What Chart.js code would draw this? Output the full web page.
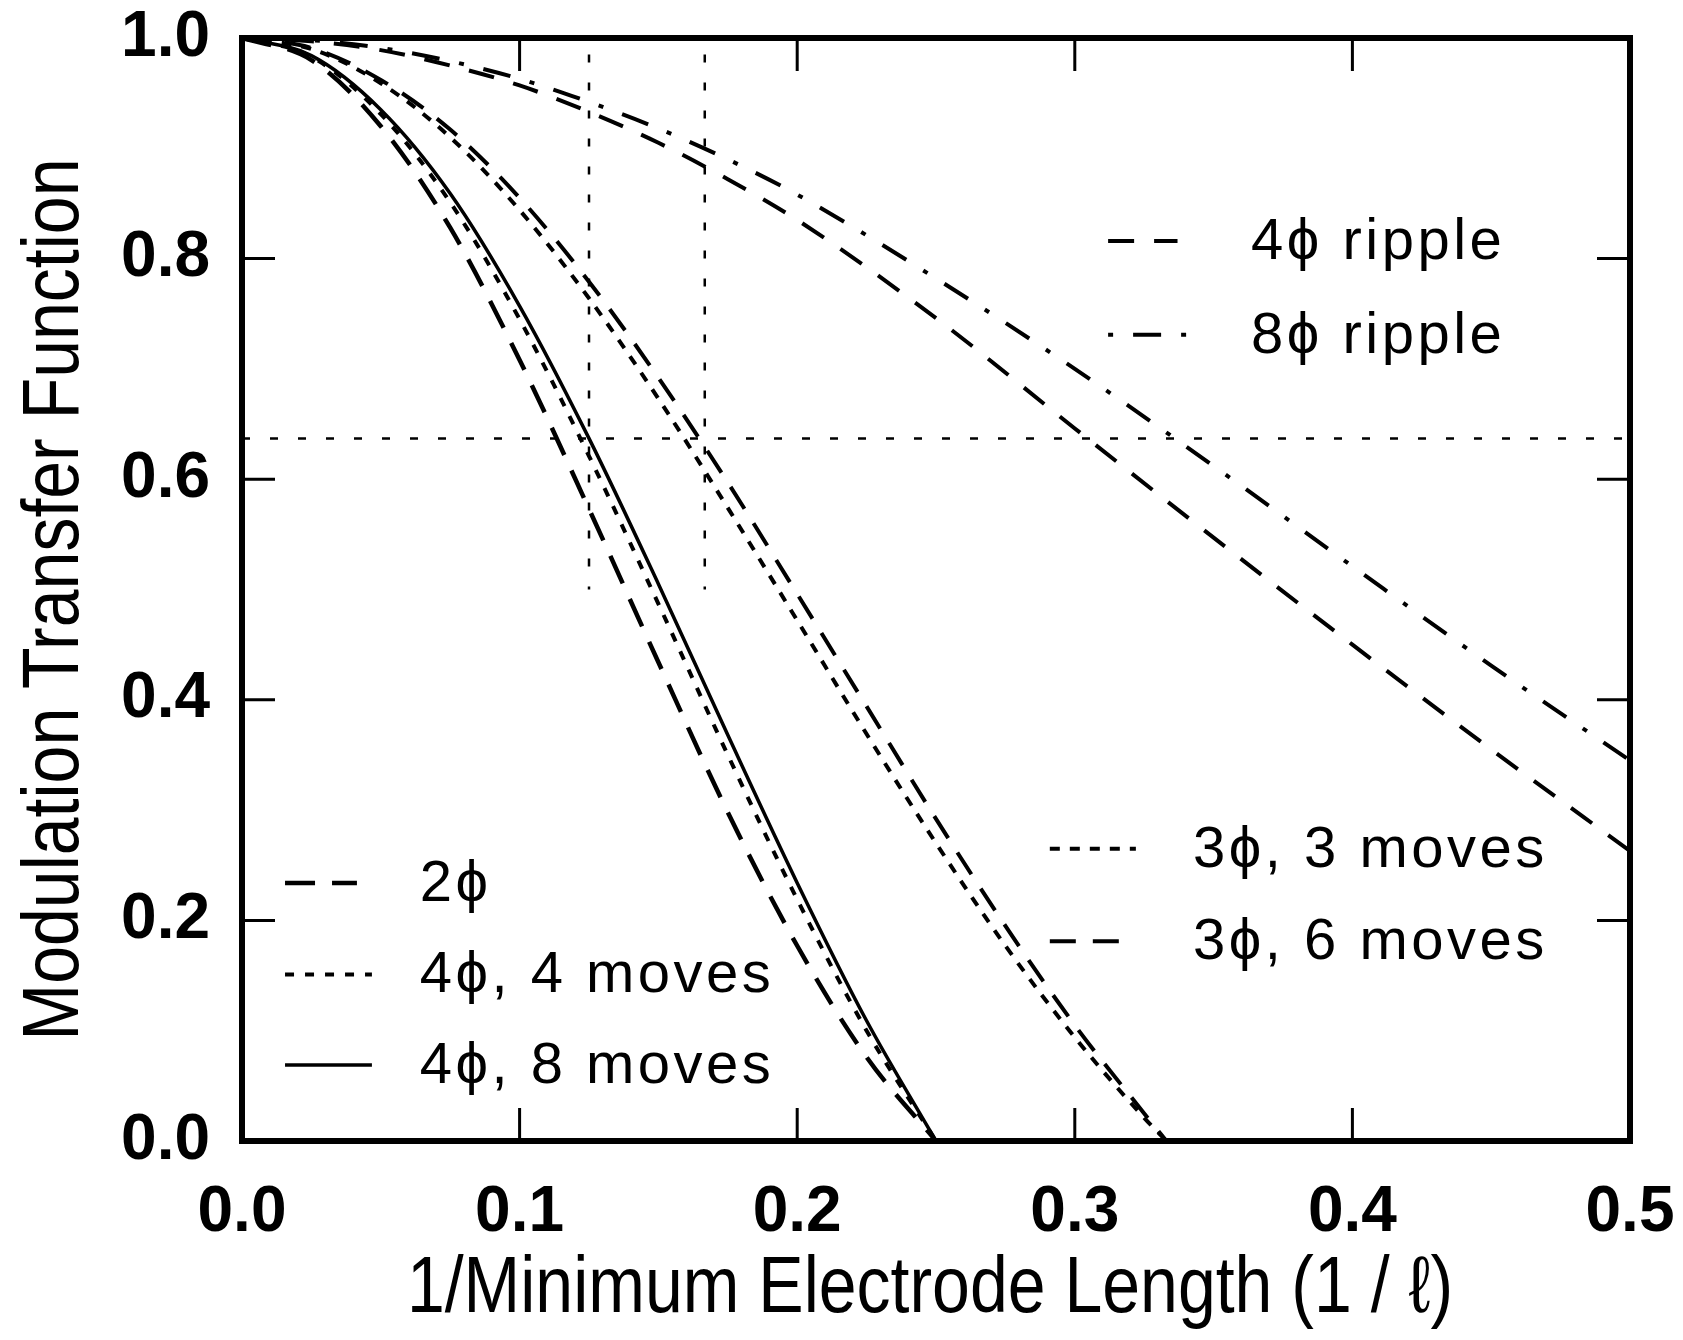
<!DOCTYPE html>
<html>
<head>
<meta charset="utf-8">
<script src="https://cdn.jsdelivr.net/npm/chart.js@4.4.1/dist/chart.umd.min.js"></script>
<style>
  html, body { margin: 0; padding: 0; background: #fff; }
  #wrap { width: 1683px; height: 1340px; }
</style>
</head>
<body>
<div id="wrap"><canvas id="mtf_chart" width="1683" height="1340"></canvas></div>
<script>
'use strict';

// spatial frequency (1/l) for the 4-phase and 2-phase curves
var freq4 = [0, 0.025, 0.05, 0.075, 0.1, 0.125, 0.15, 0.175, 0.2, 0.225, 0.25];
var mtf2phi   = [1.000, 0.980, 0.920, 0.828, 0.708, 0.573, 0.434, 0.298, 0.177, 0.076, 0.000];
var mtf4phi4  = [1.000, 0.983, 0.931, 0.851, 0.745, 0.621, 0.487, 0.350, 0.219, 0.100, 0.000];
var mtf4phi8  = [1.000, 0.984, 0.935, 0.859, 0.757, 0.637, 0.505, 0.368, 0.234, 0.109, 0.000];

// 3-phase curves run out at 1/3
var freq3 = [0, 0.025, 0.05, 0.075, 0.1, 0.125, 0.15, 0.175, 0.2, 0.225, 0.25, 0.275, 0.3, 0.325, 0.333];
var mtf3phi3 = [1.000, 0.990, 0.959, 0.910, 0.844, 0.764, 0.673, 0.574, 0.472, 0.369, 0.270, 0.177, 0.094, 0.021, 0.000];
var mtf3phi6 = [1.000, 0.991, 0.962, 0.917, 0.855, 0.779, 0.692, 0.597, 0.496, 0.394, 0.292, 0.195, 0.105, 0.025, 0.000];

// ripple curves over the full range
var freqRipple = [0, 0.025, 0.05, 0.075, 0.1, 0.125, 0.15, 0.175, 0.2, 0.25, 0.3, 0.35, 0.4, 0.45, 0.5];
var ripple4 = [1.000, 0.997, 0.989, 0.975, 0.957, 0.933, 0.905, 0.872, 0.835, 0.746, 0.646, 0.547, 0.450, 0.355, 0.263];
var ripple8 = [1.000, 0.998, 0.991, 0.979, 0.963, 0.942, 0.918, 0.890, 0.858, 0.782, 0.700, 0.612, 0.521, 0.431, 0.345];

// dotted guides: MTF = 2/pi and the two cut frequencies (drawn top down)
var refMtf = 0.637;
var refFreqs = [0.125, 0.1667];
var refSpan = [0.985, 0.5];

var xTicks = [0, 0.1, 0.2, 0.3, 0.4, 0.5];
var yTicks = [0, 0.2, 0.4, 0.6, 0.8, 1.0];

var xTitle = '1/Minimum Electrode Length (1 / \u2113)';
var yTitle = 'Modulation Transfer Function';

var tickFont = { family: '"Liberation Sans", Arial, Helvetica, sans-serif', size: 64, weight: 'bold' };
var titleFont = '80px "Liberation Sans", Arial, Helvetica, sans-serif';
var titleSqueeze = 0.85;
var legendFont = '58px "Liberation Sans", Arial, Helvetica, sans-serif';
var tickLen = 33;

function pairs(xs, ys) {
    return xs.map(function (x, i) { return { x: x, y: ys[i] }; });
}

function curve(label, xs, ys, dash, width) {
    return {
        label: label,
        data: pairs(xs, ys),
        showLine: true,
        borderColor: '#000',
        backgroundColor: '#000',
        borderWidth: width,
        borderDash: dash,
        pointRadius: 0,
        cubicInterpolationMode: 'monotone',
        fill: false
    };
}

function guide(points) {
    return {
        label: '',
        data: points,
        showLine: true,
        borderColor: '#000',
        borderWidth: 2.5,
        borderDash: [8, 20],
        pointRadius: 0,
        fill: false
    };
}

var datasets = [
    curve('2\u03d5', freq4, mtf2phi, [30, 17], 4.5),
    curve('4\u03d5, 4 moves', freq4, mtf4phi4, [9, 11], 4),
    curve('4\u03d5, 8 moves', freq4, mtf4phi8, [], 3.5),
    curve('3\u03d5, 3 moves', freq3, mtf3phi3, [10, 10], 4),
    curve('3\u03d5, 6 moves', freq3, mtf3phi6, [26, 17], 4),
    curve('4\u03d5 ripple', freqRipple, ripple4, [26, 20], 4),
    curve('8\u03d5 ripple', freqRipple, ripple8, [5, 20, 28, 20], 4),
    guide([{ x: 0, y: refMtf }, { x: 0.5, y: refMtf }]),
    guide([{ x: refFreqs[0], y: refSpan[0] }, { x: refFreqs[0], y: refSpan[1] }]),
    guide([{ x: refFreqs[1], y: refSpan[0] }, { x: refFreqs[1], y: refSpan[1] }])
];

// legend groups, placed in axis units: dataset, sample from/to, level, text start
var legendItems = [
    { ds: 5, from: 0.312, to: 0.337, y: 0.816, textAt: 0.3635 },
    { ds: 6, from: 0.312, to: 0.342, y: 0.731, textAt: 0.3635 },
    { ds: 3, from: 0.291, to: 0.322, y: 0.265, textAt: 0.3426 },
    { ds: 4, from: 0.291, to: 0.316, y: 0.181, textAt: 0.3426 },
    { ds: 0, from: 0.0155, to: 0.0414, y: 0.234, textAt: 0.064 },
    { ds: 1, from: 0.0155, to: 0.0468, y: 0.151, textAt: 0.064 },
    { ds: 2, from: 0.0155, to: 0.0468, y: 0.069, textAt: 0.064 }
];

var legendPlugin = {
    id: 'curveLegend',
    afterDatasetsDraw: function (chart) {
        var ctx = chart.ctx, xs = chart.scales.x, ys = chart.scales.y;
        legendItems.forEach(function (item) {
            var ds = chart.data.datasets[item.ds];
            var y = ys.getPixelForValue(item.y);
            ctx.save();
            ctx.strokeStyle = ds.borderColor;
            ctx.lineWidth = ds.borderWidth;
            ctx.setLineDash(ds.borderDash);
            ctx.beginPath();
            ctx.moveTo(xs.getPixelForValue(item.from), y);
            ctx.lineTo(xs.getPixelForValue(item.to), y);
            ctx.stroke();
            ctx.setLineDash([]);
            ctx.fillStyle = '#000';
            ctx.font = legendFont;
            ctx.textBaseline = 'middle';
            ctx.letterSpacing = '3.5px';
            ctx.fillText(ds.label, xs.getPixelForValue(item.textAt), y + 2);
            ctx.restore();
        });
    }
};

// box frame with inward ticks on all four sides
var framePlugin = {
    id: 'boxFrame',
    afterDatasetsDraw: function (chart) {
        var a = chart.chartArea, ctx = chart.ctx;
        var sx = chart.scales.x, sy = chart.scales.y;
        ctx.save();
        ctx.strokeStyle = '#000';
        ctx.lineWidth = 3;
        ctx.beginPath();
        xTicks.forEach(function (v) {
            if (v <= sx.min || v >= sx.max) return;
            var px = sx.getPixelForValue(v);
            ctx.moveTo(px, a.bottom); ctx.lineTo(px, a.bottom - tickLen);
            ctx.moveTo(px, a.top); ctx.lineTo(px, a.top + tickLen);
        });
        yTicks.forEach(function (v) {
            if (v <= sy.min || v >= sy.max) return;
            var py = sy.getPixelForValue(v);
            ctx.moveTo(a.left, py); ctx.lineTo(a.left + tickLen, py);
            ctx.moveTo(a.right, py); ctx.lineTo(a.right - tickLen, py);
        });
        ctx.stroke();
        ctx.lineWidth = 6;
        ctx.strokeRect(a.left, a.top, a.right - a.left, a.bottom - a.top);
        ctx.restore();
    }
};

// axis titles in a narrowed face
var titlePlugin = {
    id: 'axisTitles',
    afterDraw: function (chart) {
        var a = chart.chartArea, ctx = chart.ctx;
        ctx.save();
        ctx.fillStyle = '#000';
        ctx.font = titleFont;
        ctx.textAlign = 'center';
        ctx.textBaseline = 'alphabetic';

        ctx.save();
        ctx.translate((a.left + a.right) / 2 - 6, 1312);
        ctx.scale(titleSqueeze, 1);
        ctx.fillText(xTitle, 0, 0);
        ctx.restore();

        ctx.save();
        ctx.translate(78, (a.top + a.bottom) / 2 + 10);
        ctx.rotate(-Math.PI / 2);
        ctx.scale(titleSqueeze, 1);
        ctx.fillText(yTitle, 0, 0);
        ctx.restore();

        ctx.restore();
    }
};

var canvas = document.getElementById('mtf_chart');
var ctx = canvas.getContext('2d');
var mtfChart = new Chart(ctx, {
    type: 'scatter',
    data: { datasets: datasets },
    options: {
        responsive: false,
        animation: false,
        devicePixelRatio: 1,
        layout: { padding: 0 },
        plugins: {
            legend: { display: false },
            tooltip: { enabled: false },
            title: { display: false }
        },
        scales: {
            x: {
                type: 'linear',
                min: 0,
                max: 0.5,
                afterBuildTicks: function (scale) {
                    scale.ticks = xTicks.map(function (v) { return { value: v }; });
                },
                afterFit: function (scale) {
                    scale.height = 199;
                    scale.paddingLeft = 0;
                    scale.paddingRight = 53;
                },
                grid: { display: false, drawTicks: false },
                border: { display: false },
                ticks: {
                    color: '#000',
                    font: tickFont,
                    padding: 34,
                    maxRotation: 0,
                    callback: function (v) { return Number(v).toFixed(1); }
                }
            },
            y: {
                type: 'linear',
                min: 0,
                max: 1,
                afterBuildTicks: function (scale) {
                    scale.ticks = yTicks.map(function (v) { return { value: v }; });
                },
                afterFit: function (scale) {
                    scale.width = 242;
                    scale.paddingTop = 38;
                    scale.paddingBottom = 0;
                },
                grid: { display: false, drawTicks: false },
                border: { display: false },
                ticks: {
                    color: '#000',
                    font: tickFont,
                    padding: 32,
                    callback: function (v) { return Number(v).toFixed(1); }
                }
            }
        }
    },
    plugins: [legendPlugin, framePlugin, titlePlugin]
});
</script>
</body>
</html>
